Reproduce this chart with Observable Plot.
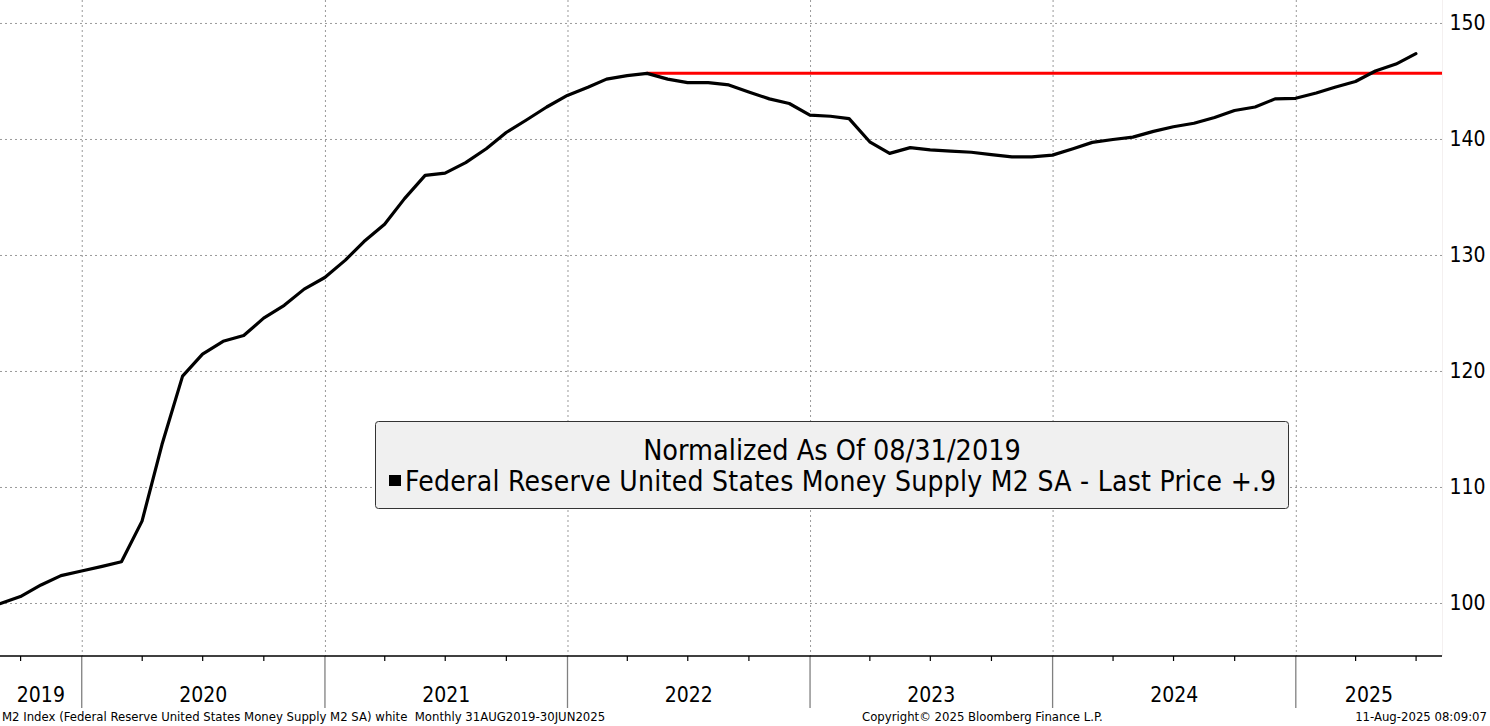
<!DOCTYPE html>
<html>
<head>
<meta charset="utf-8">
<script src="https://cdn.jsdelivr.net/npm/d3@7"></script>
<script src="https://cdn.jsdelivr.net/npm/@observablehq/plot@0.6"></script>
<style>
  html, body { margin: 0; padding: 0; background: #fff; overflow: hidden; }
  #wrap { position: relative; width: 1490px; height: 726px; font-family: "DejaVu Sans Condensed", "DejaVu Sans", sans-serif; }
  #footer { position: absolute; left: 0; top: 708px; width: 1490px; height: 18px; font-size: 13px; color: #000; }
  #footer span { position: absolute; top: 1px; white-space: pre; }
</style>
</head>
<body>
<div id="wrap">
  <div id="chart"></div>
  <div id="footer">
    <span id="f1" style="left:2px">M2 Index (Federal Reserve United States Money Supply M2 SA) white  Monthly 31AUG2019-30JUN2025</span>
    <span id="f2" style="left:862px">Copyright© 2025 Bloomberg Finance L.P.</span>
    <span id="f3" style="right:3px">11-Aug-2025 08:09:07</span>
  </div>
</div>
<script>
// ---- data ----
const months = [
  "2019-08","2019-09","2019-10","2019-11","2019-12",
  "2020-01","2020-02","2020-03","2020-04","2020-05","2020-06","2020-07","2020-08","2020-09","2020-10","2020-11","2020-12",
  "2021-01","2021-02","2021-03","2021-04","2021-05","2021-06","2021-07","2021-08","2021-09","2021-10","2021-11","2021-12",
  "2022-01","2022-02","2022-03","2022-04","2022-05","2022-06","2022-07","2022-08","2022-09","2022-10","2022-11","2022-12",
  "2023-01","2023-02","2023-03","2023-04","2023-05","2023-06","2023-07","2023-08","2023-09","2023-10","2023-11","2023-12",
  "2024-01","2024-02","2024-03","2024-04","2024-05","2024-06","2024-07","2024-08","2024-09","2024-10","2024-11","2024-12",
  "2025-01","2025-02","2025-03","2025-04","2025-05","2025-06"
];
const m2Values = [
  100.0, 100.6, 101.6, 102.4, 102.8,
  103.2, 103.6, 107.1, 113.7, 119.6, 121.5, 122.6, 123.1, 124.6, 125.7, 127.1, 128.1,
  129.6, 131.2, 132.7, 134.9, 136.9, 137.1, 138.0, 139.2, 140.6, 141.7, 142.8, 143.8,
  144.5, 145.2, 145.5, 145.7, 145.2, 144.9, 144.9, 144.7, 144.1, 143.5, 143.1, 142.1,
  142.0, 141.8, 139.8, 138.8, 139.3, 139.1, 139.0, 138.9, 138.7, 138.5, 138.5, 138.65,
  139.2, 139.75, 140.0, 140.2, 140.7, 141.1, 141.4, 141.9, 142.5, 142.8, 143.5, 143.55,
  144.0, 144.5, 145.0, 145.9, 146.5, 147.4
];
const priorHighMonth = "2022-04";   // red reference line: the 2022 high
const yTicks = [100, 110, 120, 130, 140, 150];
const yearLabels = ["2019", "2020", "2021", "2022", "2023", "2024", "2025"];
const legendTitle = "Normalized As Of 08/31/2019";
const legendSeries = "Federal Reserve United States Money Supply M2 SA - Last Price";
const legendValue = "+.9";

// ---- build ----
const endOfMonth = s => { const [y, m] = s.split("-").map(Number); return new Date(Date.UTC(y, m, 0)); };
const data = months.map((s, i) => ({date: endOfMonth(s), value: m2Values[i]}));
const xStart = new Date(Date.UTC(2019, 7, 31));
const xEnd = new Date(Date.UTC(2025, 7, 9));
const peak = data[months.indexOf(priorHighMonth)];
const yearStarts = yearLabels.slice(1).map(y => new Date(Date.UTC(+y, 0, 1)));

const FONT = '"DejaVu Sans Condensed", "DejaVu Sans", sans-serif';

const plot = Plot.plot({
  width: 1490,
  height: 710,
  marginLeft: 0,
  marginRight: 48,
  marginTop: 0,
  marginBottom: 54,
  style: {fontFamily: FONT, fontSize: "21px", color: "#000", background: "#fff", overflow: "visible"},
  x: {type: "utc", domain: [xStart, xEnd], axis: null},
  y: {domain: [95.43, 151.98], axis: "right", ticks: yTicks, tickSize: 0, tickPadding: 7, tickFormat: d => String(d), label: null},
  marks: [
    Plot.ruleY(yTicks, {stroke: "#9a9a9a", strokeWidth: 1, strokeDasharray: "2,3"}),
    Plot.ruleX(yearStarts, {stroke: "#9a9a9a", strokeWidth: 1, strokeDasharray: "2,3"}),
    Plot.ruleY([peak.value], {x1: peak.date, x2: xEnd, stroke: "#ff0000", strokeWidth: 3}),
    Plot.line(data, {x: "date", y: "value", stroke: "#000", strokeWidth: 3.2, strokeLinejoin: "round"})
  ]
});
document.getElementById("chart").appendChild(plot);

// ---- custom x axis (Bloomberg style) drawn from the plot's scales ----
const xs = plot.scale("x");
const ys = plot.scale("y");
const X = d => xs.apply(d);
const [r0, r1] = xs.range;
const yBase = ys.apply(ys.domain[0]);
const svg = d3.select(plot);
const g = svg.append("g");

g.append("line").attr("x1", r1 + 0.5).attr("x2", r1 + 0.5).attr("y1", 0).attr("y2", yBase)
  .attr("stroke", "#f4f0f0").attr("stroke-width", 1);

const quarters = d3.utcMonth.every(3).range(xStart, xEnd).filter(d => d.getUTCMonth() !== 0);
g.selectAll(".qt").data(quarters).join("line")
  .attr("x1", d => X(d)).attr("x2", d => X(d))
  .attr("y1", yBase).attr("y2", yBase + 5)
  .attr("stroke", "#000").attr("stroke-width", 1.2);

g.selectAll(".ys").data(yearStarts).join("line")
  .attr("x1", d => X(d)).attr("x2", d => X(d))
  .attr("y1", yBase).attr("y2", yBase + 52)
  .attr("stroke", "#808080").attr("stroke-width", 1.3);

g.append("line").attr("x1", r0).attr("x2", r1).attr("y1", yBase).attr("y2", yBase)
  .attr("stroke", "#000").attr("stroke-width", 1.5);

g.selectAll(".yl").data(yearLabels).join("text")
  .attr("x", y => {
    const a = Math.max(X(new Date(Date.UTC(+y, 0, 1))), r0);
    const b = Math.min(X(new Date(Date.UTC(+y + 1, 0, 1))), r1);
    return (a + b) / 2;
  })
  .attr("y", yBase + 46)
  .attr("text-anchor", "middle")
  .attr("font-family", FONT)
  .attr("font-size", 21)
  .attr("fill", "#000")
  .text(d => d);

// ---- legend box ----
const lg = svg.append("g");
lg.append("rect").attr("x", 375.5).attr("y", 421.5).attr("width", 913).attr("height", 87).attr("rx", 3)
  .attr("fill", "#f0f0f0").attr("stroke", "#333").attr("stroke-width", 1);
lg.append("text").attr("x", 832).attr("y", 460).attr("text-anchor", "middle")
  .attr("font-family", FONT).attr("font-size", 28.5).attr("fill", "#000").text(legendTitle);
lg.append("rect").attr("x", 389).attr("y", 475).attr("width", 12).attr("height", 11).attr("fill", "#000");
lg.append("text").attr("x", 405).attr("y", 491).attr("text-anchor", "start")
  .attr("font-family", FONT).attr("font-size", 28).attr("fill", "#000")
  .attr("textLength", 817).attr("lengthAdjust", "spacing").text(legendSeries);
lg.append("text").attr("x", 1276).attr("y", 491).attr("text-anchor", "end")
  .attr("font-family", FONT).attr("font-size", 28).attr("fill", "#000").text(legendValue);
</script>
</body>
</html>
